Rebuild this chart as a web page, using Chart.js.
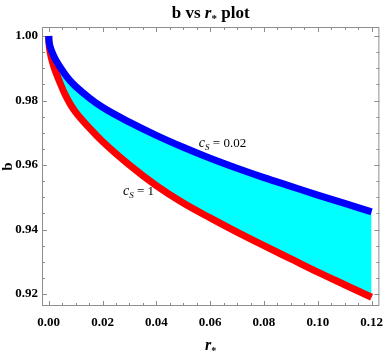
<!DOCTYPE html>
<html>
<head>
<meta charset="utf-8">
<script src="https://cdn.jsdelivr.net/npm/chart.js"></script>
<style>
  html, body { margin: 0; padding: 0; background: #fff; }
  canvas { display: block; }
</style>
</head>
<body>
<canvas id="myChart" width="392" height="354"></canvas>
<script>
// ---------------------------------------------
// b vs r* plot, band between c_S = 0.02 and c_S = 1
// ---------------------------------------------

const rStar = [0, 0.0001, 0.0003, 0.0006, 0.001, 0.002, 0.003, 0.0045, 0.006, 0.008, 0.01, 0.015, 0.02, 0.03, 0.04, 0.05, 0.06, 0.07, 0.08, 0.09, 0.10, 0.11, 0.12];
const bCs002 = [1.0000, 0.9985, 0.9975, 0.9965, 0.9955, 0.9936, 0.9920, 0.9900, 0.9882, 0.9861, 0.9844, 0.9809, 0.9779, 0.9733, 0.9692, 0.9655, 0.9621, 0.9590, 0.9561, 0.9534, 0.9507, 0.9481, 0.9455];
const bCs1 = [1.0000, 0.9978, 0.9962, 0.9947, 0.9931, 0.9903, 0.9880, 0.9849, 0.9820, 0.9789, 0.9764, 0.9716, 0.9673, 0.9600, 0.9536, 0.9482, 0.9436, 0.9392, 0.9350, 0.9309, 0.9268, 0.9229, 0.9190];

const xTicks = [0, 0.02, 0.04, 0.06, 0.08, 0.10, 0.12];
const yTicks = [0.92, 0.94, 0.96, 0.98, 1.00];

const SERIF = '"Liberation Serif", "Times New Roman", serif';
const FRAME = '#8e8e8e';

// curve labels, anchored in data coords (left / baseline)
const curveLabels = [
    { at: [0.0558, 0.9656], sub: "S", text: " = 0.02" },
    { at: [0.0276, 0.9506], sub: "S", text: " = 1" },
];

function drawRich(ctx, parts, x, y, align) {
    let w = 0;
    parts.forEach((p) => {
        ctx.font = p.font;
        p.w = ctx.measureText(p.t).width;
        w += p.w;
    });
    let cx = align === "center" ? x - w / 2 : x;
    ctx.textAlign = "left";
    ctx.textBaseline = "alphabetic";
    parts.forEach((p) => {
        ctx.font = p.font;
        ctx.fillText(p.t, cx, y + (p.dy || 0));
        cx += p.w;
    });
}

const frameTicks = {
    id: "frameTicks",
    beforeDatasetsDraw(chart) {
        const { ctx, chartArea: a, scales } = chart;
        ctx.save();
        ctx.strokeStyle = FRAME;
        ctx.lineWidth = 1;
        ctx.strokeRect(a.left + 0.5, a.top + 0.5, a.right - a.left - 1, a.bottom - a.top - 1);

        ctx.beginPath();
        for (let i = 0; i <= 24; i++) {
            const v = i * 0.005;
            const len = i % 4 === 0 ? 5 : 3;
            const px = Math.round(scales.x.getPixelForValue(v)) + 0.5;
            ctx.moveTo(px, a.bottom);
            ctx.lineTo(px, a.bottom - len);
            ctx.moveTo(px, a.top);
            ctx.lineTo(px, a.top + len);
        }
        for (let i = 0; i <= 16; i++) {
            const v = 0.92 + i * 0.005;
            const len = i % 4 === 0 ? 5 : 3;
            const py = Math.round(scales.y.getPixelForValue(v)) + 0.5;
            ctx.moveTo(a.left, py);
            ctx.lineTo(a.left + len, py);
            ctx.moveTo(a.right, py);
            ctx.lineTo(a.right - len, py);
        }
        ctx.stroke();
        ctx.restore();
    },
    afterDraw(chart) {
        const { ctx, chartArea: a, scales } = chart;
        const cx = (a.left + a.right) / 2;
        ctx.save();
        ctx.fillStyle = "#000";

        // title
        drawRich(ctx, [
            { t: "b vs ", font: `bold 17px ${SERIF}` },
            { t: "r", font: `italic bold 17px ${SERIF}` },
            { t: "*", font: `bold 11px ${SERIF}`, dy: 4 },
            { t: " plot", font: `bold 17px ${SERIF}` },
        ], cx, 18, "center");

        // x axis title
        drawRich(ctx, [
            { t: "r", font: `italic bold 16px ${SERIF}` },
            { t: "*", font: `bold 10px ${SERIF}`, dy: 4 },
        ], cx, 350, "center");

        // y axis title
        ctx.save();
        ctx.translate(12, (a.top + a.bottom) / 2);
        ctx.rotate(-Math.PI / 2);
        ctx.font = `bold 15px ${SERIF}`;
        ctx.textAlign = "center";
        ctx.textBaseline = "alphabetic";
        ctx.fillText("b", 0, 0);
        ctx.restore();

        // curve labels
        curveLabels.forEach((l) => {
            const px = scales.x.getPixelForValue(l.at[0]);
            const py = scales.y.getPixelForValue(l.at[1]);
            drawRich(ctx, [
                { t: "c", font: `italic 14px ${SERIF}` },
                { t: l.sub, font: `italic 9px ${SERIF}`, dy: 3 },
                { t: l.text, font: `13px ${SERIF}` },
            ], px, py, "left");
        });
        ctx.restore();
    },
};

function toPoints(ys) {
    return rStar.map((r, i) => ({ x: r, y: ys[i] }));
}

const tickFont = { family: SERIF, weight: "bold", size: 13 };

const config = {
    type: "line",
    data: {
        datasets: [
            {
                label: "c_S = 0.02",
                data: toPoints(bCs002),
                borderColor: "#0000ff",
                borderWidth: 7,
                pointRadius: 0,
                fill: false,
                cubicInterpolationMode: "monotone",
            },
            {
                label: "c_S = 1",
                data: toPoints(bCs1),
                borderColor: "#ff0000",
                backgroundColor: "#00ffff",
                borderWidth: 7,
                pointRadius: 0,
                fill: "-1",
                cubicInterpolationMode: "monotone",
            },
        ],
    },
    options: {
        responsive: false,
        animation: false,
        devicePixelRatio: 1,
        layout: { padding: { top: 27, right: 2, left: 0, bottom: 0 } },
        plugins: {
            legend: { display: false },
            tooltip: { enabled: false },
            title: { display: false },
        },
        scales: {
            x: {
                type: "linear",
                min: -0.0025,
                max: 0.1229,
                afterFit: (s) => { s.height = 48; },
                afterBuildTicks: (s) => { s.ticks = xTicks.map((v) => ({ value: v })); },
                grid: { display: false, drawTicks: false },
                border: { display: false },
                ticks: {
                    maxRotation: 0,
                    autoSkip: false,
                    padding: 9,
                    color: "#000",
                    font: tickFont,
                    callback: (v) => Number(v).toFixed(2),
                },
            },
            y: {
                type: "linear",
                min: 0.9163,
                max: 1.0028,
                afterFit: (s) => { s.width = 42; },
                afterBuildTicks: (s) => { s.ticks = yTicks.map((v) => ({ value: v })); },
                grid: { display: false, drawTicks: false },
                border: { display: false },
                ticks: {
                    autoSkip: false,
                    padding: 4,
                    color: "#000",
                    font: tickFont,
                    callback: (v) => Number(v).toFixed(2),
                },
            },
        },
    },
    plugins: [frameTicks],
};

const myChart = new Chart(document.querySelector("#myChart"), config);
</script>
</body>
</html>
